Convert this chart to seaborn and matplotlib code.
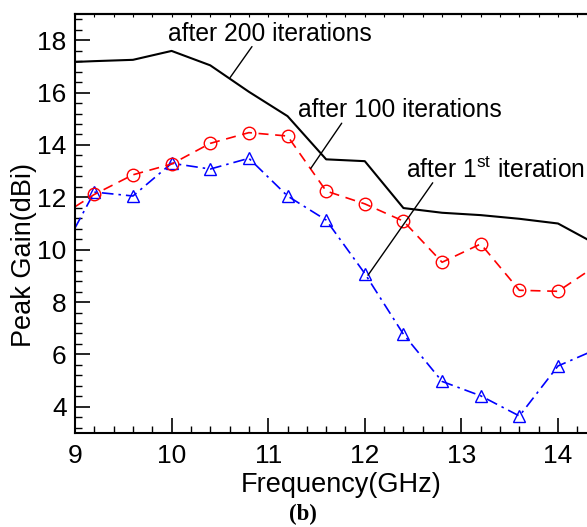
import matplotlib
matplotlib.use("Agg")
import matplotlib.pyplot as plt
from matplotlib.ticker import MultipleLocator
import seaborn as sns
import pandas as pd

freq = [9.0, 9.2, 9.6, 10.0, 10.4, 10.8, 11.2, 11.6, 12.0, 12.4, 12.8, 13.2, 13.6, 14.0, 14.4]
gain_200 = [17.17, 17.2, 17.25, 17.59, 17.04, 16.03, 15.1, 13.45, 13.38, 11.59, 11.41, 11.32, 11.18, 11.0, 10.2]
gain_100 = [11.64, 12.11, 12.86, 13.27, 14.06, 14.47, 14.34, 12.24, 11.75, 11.09, 9.52, 10.22, 8.45, 8.41, 9.4]
gain_1st = [10.83, 12.2, 12.05, 13.3, 13.08, 13.49, 12.05, 11.13, 9.09, 6.77, 4.97, 4.42, 3.65, 5.56, 6.2]

labels = ["after 200 iterations", "after 100 iterations", "after 1$^{\\mathrm{st}}$ iteration"]

df = pd.DataFrame({"freq": freq, "g200": gain_200, "g100": gain_100, "g1": gain_1st})

sns.set_style("ticks")
plt.rcParams["font.family"] = ["Liberation Sans", "DejaVu Sans"]
plt.rcParams["mathtext.fontset"] = "custom"
plt.rcParams["mathtext.rm"] = "Liberation Sans"
plt.rcParams["mathtext.it"] = "Liberation Sans:italic"
plt.rcParams["text.color"] = "black"
plt.rcParams["axes.labelcolor"] = "black"
plt.rcParams["xtick.color"] = "black"
plt.rcParams["ytick.color"] = "black"

fig = plt.figure(figsize=(5.87, 5.27), dpi=100)
L, B, T = 75 / 587, (527 - 433) / 527, (527 - 14) / 527
ax = fig.add_axes([L, B, 1 - L, T - B])

FS_ANN = 17.7
FS_TICK = 19
FS_LAB = 19.5

sns.lineplot(data=df, x="freq", y="g1", ax=ax, color="blue", linewidth=1.2,
             dashes=False, marker="^", markersize=9, markerfacecolor="none",
             markeredgecolor="blue", markeredgewidth=1.0,
             markevery=list(range(1, len(freq))))
ax.lines[-1].set_dashes([7, 3, 1.5, 3])
sns.lineplot(data=df, x="freq", y="g100", ax=ax, color="red", linewidth=1.2,
             marker="o", markersize=9, markerfacecolor="none",
             markeredgecolor="red", markeredgewidth=1.0,
             markevery=list(range(1, len(freq))))
ax.lines[-1].set_dashes([6, 4])
sns.lineplot(data=df, x="freq", y="g200", ax=ax, color="black", linewidth=1.5)

ax.set_xlim(9, 9 + 512 / 96.6)
ax.set_ylim(3, 19)
ax.xaxis.set_major_locator(MultipleLocator(1))
ax.xaxis.set_minor_locator(MultipleLocator(0.2))
ax.yaxis.set_major_locator(MultipleLocator(2))
ax.yaxis.set_minor_locator(MultipleLocator(0.4))
ax.set_yticks([4, 6, 8, 10, 12, 14, 16, 18])
ax.tick_params(which="major", direction="in", length=10.5, width=1.2, labelsize=FS_TICK,
               color="black", labelcolor="black")
ax.tick_params(which="minor", direction="in", length=5, width=1.0, color="black")
ax.tick_params(axis="x", which="major", pad=8)
ax.tick_params(axis="y", which="major", pad=6)

for s in ["left", "bottom", "top"]:
    ax.spines[s].set_linewidth(1.5)
    ax.spines[s].set_color("black")
ax.spines["right"].set_visible(False)

sec = ax.secondary_xaxis("top")
sec.xaxis.set_major_locator(MultipleLocator(0.2))
sec.tick_params(direction="in", length=2.5, width=0.8, labeltop=False, color="black")
sec.spines["top"].set_linewidth(1.5)
sec.spines["top"].set_color("black")

ax.set_xlabel("Frequency(GHz)", fontsize=FS_LAB, color="black")
ax.xaxis.set_label_coords((341 - 75) / 512, (433 - 472) / 419)
ax.set_ylabel("Peak Gain(dBi)", fontsize=FS_LAB, color="black")
ax.yaxis.set_label_coords((37 - 75) / 512, (433 - 255) / 419)

# annotations
ax.text(9.963, 17.95, labels[0], fontsize=FS_ANN, va="baseline", ha="left", color="black")
ax.annotate("", xy=(10.605, 16.57), xytext=(10.832, 17.755),
            arrowprops=dict(arrowstyle="-", color="black", lw=1.0, shrinkA=0, shrinkB=0))
ax.text(11.308, 15.08, labels[1], fontsize=FS_ANN, va="baseline", ha="left", color="black")
ax.annotate("", xy=(11.44, 13.1), xytext=(11.761, 14.83),
            arrowprops=dict(arrowstyle="-", color="black", lw=1.0, shrinkA=0, shrinkB=0))
ax.text(12.426, 12.72, labels[2], fontsize=FS_ANN, va="baseline", ha="left", color="black")
ax.annotate("", xy=(12.033, 9.025), xytext=(12.703, 12.555),
            arrowprops=dict(arrowstyle="-", color="black", lw=1.0, shrinkA=0, shrinkB=0))

fig.text(303 / 587, 1.5 / 527, "(b)", fontsize=16.5, fontweight="bold",
         family="Liberation Serif", ha="center", va="bottom", color="black")

fig.savefig("out.png", dpi=100)
